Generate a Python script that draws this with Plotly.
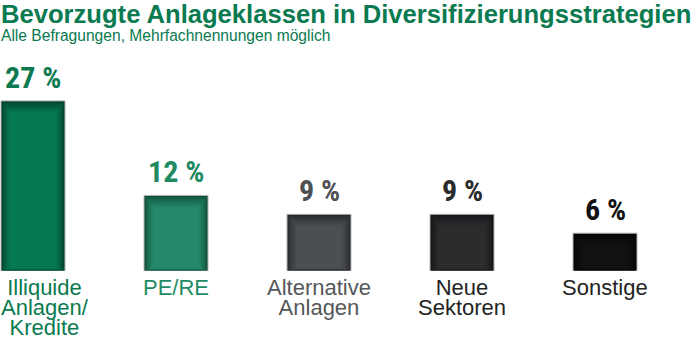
import plotly.graph_objects as go

# Chart data
categories = ["Illiquide Anlagen/ Kredite", "PE/RE", "Alternative Anlagen", "Neue Sektoren", "Sonstige"]
label_lines = [["Illiquide", "Anlagen/", "Kredite"], ["PE/RE"], ["Alternative", "Anlagen"], ["Neue", "Sektoren"], ["Sonstige"]]
values = [27, 12, 9, 9, 6]
value_labels = ["27 %", "12 %", "9 %", "9 %", "6 %"]

# Styling per bar: (edge shade, centre shade), label colour, category colour
edge_colors = ["#033f29", "#124d39", "#26282b", "#121314", "#040404"]
center_colors = ["#057a52", "#23896a", "#4b4e52", "#2b2c2e", "#111111"]
value_colors = ["#0b7a50", "#1f8a62", "#4d5055", "#2a2b2d", "#111111"]
cat_colors = ["#0a7a50", "#1f8c64", "#555759", "#232323", "#232323"]
label_xshift = [12, 0, 0, 0, 0]

W, H = 700, 339
BASE_PX = 271          # baseline pixel row
PX_PER_UNIT = 6.3      # vertical scale
STEP_PX = 143          # distance between bar centres
FIRST_PX = 33          # centre of first bar
BAR_PX = 64            # bar width in pixels

y_max = BASE_PX / PX_PER_UNIT
x_lo = -FIRST_PX / STEP_PX
x_hi = (W - FIRST_PX) / STEP_PX
bar_w = BAR_PX / STEP_PX
xs = list(range(len(values)))

NARROW = ("Noto Sans ExtraCondensed, Noto Sans Condensed, Roboto Condensed, "
          "Open Sans Condensed, Liberation Sans Narrow, Arial Narrow, DejaVu Sans Condensed")
LABEL_PX = 22          # category label glyph size
LEADING_PX = 20        # distance between category label lines


def mix(c1, c2, t):
    a = [int(c1[i:i + 2], 16) for i in (1, 3, 5)]
    b = [int(c2[i:i + 2], 16) for i in (1, 3, 5)]
    return "#" + "".join(f"{round(a[k] + (b[k] - a[k]) * t):02x}" for k in range(3))


fig = go.Figure()

# Outer bar with a thin light frame
fig.add_trace(go.Bar(
    x=xs, y=values, width=bar_w,
    marker=dict(color=edge_colors, line=dict(color="#b4b4b4", width=1)),
    hoverinfo="skip", showlegend=False,
))

# Inset layers to give a soft inner shadow
layers = 6
for k in range(1, layers + 1):
    inset_px = 1.5 * k
    t = k / layers
    cols = [mix(e, c, t ** 0.7) for e, c in zip(edge_colors, center_colors)]
    fig.add_trace(go.Bar(
        x=xs,
        y=[v - (inset_px * 1.3 + inset_px * 0.3) / PX_PER_UNIT for v in values],
        base=[inset_px * 0.3 / PX_PER_UNIT] * len(values),
        width=(BAR_PX - 2 * inset_px) / STEP_PX,
        marker=dict(color=cols, line=dict(width=0)),
        hoverinfo="skip", showlegend=False,
    ))

annotations = []
# Value labels above bars
for x, v, txt, col in zip(xs, values, value_labels, value_colors):
    annotations.append(dict(
        x=x, y=v, xref="x", yref="y", text=txt, showarrow=False,
        yanchor="bottom", yshift=4,
        font=dict(family=NARROW, size=30, color=col, weight="bold"),
    ))

# Category labels under bars; tight leading via a small base size
for x, lines, col, dx in zip(xs, label_lines, cat_colors, label_xshift):
    annotations.append(dict(
        x=x, y=0, xref="x", yref="y", showarrow=False,
        text="<br>".join(f"<span style='font-size:{LABEL_PX}px'>{ln}</span>" for ln in lines),
        yanchor="top", yshift=-2, xshift=dx, align="center",
        font=dict(family="Liberation Sans, Arial", size=LEADING_PX / 1.3, color=col),
    ))

# Title block: heading plus subtitle in one text block
annotations.append(dict(
    x=0, y=1, xref="paper", yref="paper", xanchor="left", yanchor="top",
    align="left", showarrow=False, yshift=1, xshift=0, borderpad=0,
    text=("<span style='font-size:25.6px'><b>Bevorzugte Anlageklassen in "
          "Diversifizierungsstrategien</b></span><br>"
          "<span style='font-size:15.6px'>Alle Befragungen, Mehrfachnennungen möglich</span>"),
    font=dict(family="Liberation Sans, Arial", size=13.85, color="#0a7a50"),
))

fig.update_layout(
    width=W, height=H,
    margin=dict(l=0, r=0, t=0, b=H - BASE_PX),
    paper_bgcolor="white", plot_bgcolor="white",
    barmode="overlay",
    xaxis=dict(range=[x_lo, x_hi], visible=False, fixedrange=True),
    yaxis=dict(range=[0, y_max], visible=False, fixedrange=True),
    annotations=annotations,
    showlegend=False,
)

fig.write_html("out.html", config={"displayModeBar": False})
